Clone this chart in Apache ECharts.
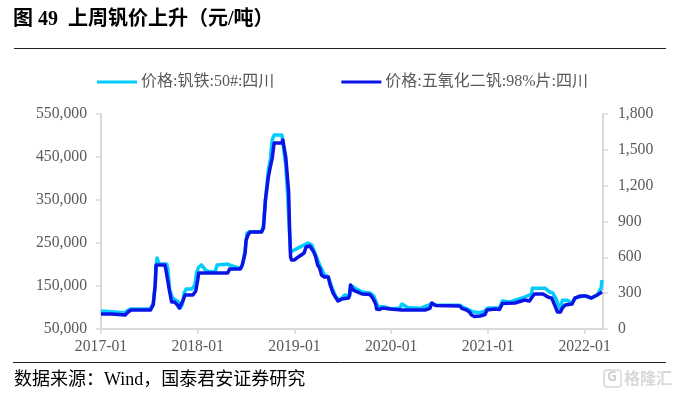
<!DOCTYPE html>
<html><head><meta charset="utf-8">
<style>html,body{margin:0;padding:0;background:#fff}#c{width:678px;height:395px}</style>
<script src="https://cdn.jsdelivr.net/npm/echarts@6/dist/echarts.min.js"></script>
</head><body><div id="c"></div>
<script>
const titleText = '图 49  上周钒价上升（元/吨）';
const sourceText = '数据来源：Wind，国泰君安证券研究';
const nameFe = '价格:钒铁:50#:四川';
const nameV2O5 = '价格:五氧化二钒:98%片:四川';
const xTickValues = [2017,2018,2019,2020,2021,2022];
const xTickLabels = ['2017-01','2018-01','2019-01','2020-01','2021-01','2022-01'];
const leftTicks = [50000,150000,250000,350000,450000,550000];
const rightTicks = [0,300,600,900,1200,1500,1800];

// time expressed in decimal years
const feTime = [2017.00,2017.11,2017.25,2017.28,2017.31,2017.51,2017.54,2017.56,2017.57,2017.58,2017.60,2017.68,2017.69,2017.71,2017.74,2017.80,2017.82,2017.84,2017.86,2017.88,2017.94,2017.97,2017.99,2018.01,2018.04,2018.08,2018.13,2018.18,2018.20,2018.31,2018.35,2018.42,2018.45,2018.47,2018.49,2018.51,2018.54,2018.66,2018.68,2018.70,2018.73,2018.75,2018.77,2018.79,2018.87,2018.89,2018.91,2018.93,2018.95,2018.96,2018.98,2019.06,2019.14,2019.18,2019.22,2019.26,2019.31,2019.35,2019.39,2019.43,2019.47,2019.52,2019.57,2019.58,2019.63,2019.70,2019.78,2019.82,2019.86,2019.93,2020.01,2020.09,2020.11,2020.17,2020.30,2020.38,2020.41,2020.43,2020.46,2020.71,2020.76,2020.81,2020.84,2020.92,2020.97,2021.00,2021.12,2021.15,2021.23,2021.28,2021.38,2021.45,2021.46,2021.59,2021.64,2021.67,2021.70,2021.73,2021.75,2021.77,2021.79,2021.82,2021.87,2021.90,2022.00,2022.07,2022.13,2022.15,2022.17,2022.18];
const feValues = [92000,90000,88000,94000,96500,96500,110000,152000,199000,215000,201000,201000,192000,141000,122000,113000,99000,106000,134000,143000,143000,152000,183000,194000,199000,187000,183000,183000,199000,201000,197000,192000,192000,206000,234000,273000,276000,276000,292000,350000,420000,443000,490000,501000,501000,497000,431000,362000,269000,229000,227000,241000,250000,245000,222000,199000,176000,171000,145000,124000,117000,129000,127000,152000,145000,136000,134000,127000,103000,101000,96500,99000,108000,100000,98000,105000,108000,110000,106000,105000,99000,94000,90000,88000,92000,99000,99000,115000,113000,117000,124000,131000,145000,145000,136000,134000,122000,106000,96500,117000,120000,117000,110000,122000,127000,122000,129000,129000,145000,164000];

const vTime = [2017.00,2017.11,2017.12,2017.25,2017.28,2017.31,2017.51,2017.54,2017.56,2017.57,2017.66,2017.67,2017.69,2017.71,2017.73,2017.76,2017.79,2017.81,2017.83,2017.85,2017.87,2017.95,2017.98,2018.00,2018.01,2018.31,2018.33,2018.44,2018.46,2018.47,2018.49,2018.50,2018.52,2018.54,2018.66,2018.68,2018.70,2018.73,2018.75,2018.77,2018.79,2018.87,2018.88,2018.90,2018.91,2018.93,2018.94,2018.95,2018.96,2018.97,2019.00,2019.04,2019.10,2019.12,2019.16,2019.20,2019.22,2019.24,2019.26,2019.28,2019.31,2019.35,2019.37,2019.40,2019.43,2019.45,2019.49,2019.56,2019.57,2019.58,2019.61,2019.65,2019.70,2019.78,2019.81,2019.84,2019.85,2019.88,2019.91,2019.99,2020.01,2020.11,2020.19,2020.35,2020.40,2020.42,2020.44,2020.46,2020.71,2020.73,2020.78,2020.81,2020.83,2020.86,2020.92,2020.97,2020.99,2021.07,2021.12,2021.15,2021.28,2021.38,2021.43,2021.45,2021.48,2021.57,2021.62,2021.66,2021.69,2021.72,2021.75,2021.77,2021.80,2021.87,2021.90,2021.95,2022.02,2022.07,2022.13,2022.15,2022.18];
const vValues = [125,125,117,117,142,159,159,201,368,536,536,502,502,310,226,226,201,176,176,243,285,285,318,410,469,469,502,502,536,552,636,745,787,812,812,845,1080,1272,1356,1431,1557,1557,1582,1582,1440,1440,1147,829,603,578,578,603,636,686,695,644,603,536,511,452,435,435,368,301,259,234,251,259,285,368,326,310,293,289,259,209,167,163,176,167,155,159,159,159,172,218,213,197,193,172,159,142,117,105,109,121,159,167,163,213,218,243,234,259,293,293,268,259,201,142,142,176,201,209,259,276,276,259,285,289,310];

const pair = (t, v) => t.map((x, i) => [x, v[i]]);
const FONT = '"Liberation Serif","Noto Sans CJK SC",serif';
const GRAY = '#595959', AXIS = '#d9d9d9';
const fmt = v => Number(v).toLocaleString('en-US');

const chart = echarts.init(document.getElementById('c'), null, {renderer:'canvas'});
chart.setOption({
  animation:false,
  backgroundColor:'#fff',
  title:{text:titleText,left:13,top:10,padding:0,textStyle:{fontFamily:FONT,fontSize:20,fontWeight:'bold',color:'#000'}},
  legend:{left:97,top:74,padding:0,itemWidth:40,itemHeight:3,itemGap:67,icon:'rect',
    data:[nameFe,nameV2O5],
    textStyle:{fontFamily:FONT,fontSize:16,color:GRAY,padding:[0,0,0,-1]}},
  grid:{left:101,right:75,top:114,bottom:66},
  xAxis:{type:'value',min:2017,max:2022.19,splitLine:{show:false},
    axisLine:{lineStyle:{color:AXIS,width:2}},
    axisTick:{show:true,length:5,customValues:xTickValues,lineStyle:{color:AXIS,width:1.5}},
    axisLabel:{customValues:xTickValues,margin:10,fontFamily:FONT,fontSize:15.7,color:GRAY,
      formatter:v=>xTickLabels[xTickValues.indexOf(Math.round(v))]}},
  yAxis:[
    {type:'value',min:50000,max:550000,splitLine:{show:false},
     axisLine:{show:true,onZero:false,lineStyle:{color:AXIS,width:2}},
     axisTick:{show:true,length:5,customValues:leftTicks,lineStyle:{color:AXIS,width:1.5}},
     axisLabel:{customValues:leftTicks,margin:14,fontFamily:FONT,fontSize:15.7,color:GRAY,formatter:fmt}},
    {type:'value',min:0,max:1800,interval:300,position:'right',splitLine:{show:false},
     axisLine:{show:true,onZero:false,lineStyle:{color:AXIS,width:2}},
     axisTick:{show:true,length:5,lineStyle:{color:AXIS,width:1.5}},
     axisLabel:{margin:15,fontFamily:FONT,fontSize:15.7,color:GRAY,formatter:fmt}}
  ],
  series:[
    {name:nameFe,type:'line',yAxisIndex:0,showSymbol:false,data:pair(feTime,feValues),
     lineStyle:{color:'#00ccff',width:3.5,join:'round'},itemStyle:{color:'#00ccff'},z:2},
    {name:nameV2O5,type:'line',yAxisIndex:1,showSymbol:false,data:pair(vTime,vValues),
     lineStyle:{color:'#0a14e6',width:3.5,join:'round'},itemStyle:{color:'#0a14e6'},z:3}
  ],
  graphic:[
    {type:'line',shape:{x1:14,y1:48.5,x2:666,y2:48.5},style:{stroke:'#222',lineWidth:1}},
    {type:'line',shape:{x1:13,y1:362.5,x2:666,y2:362.5},style:{stroke:'#222',lineWidth:1}},
    {type:'text',left:14,top:371,style:{text:sourceText,fontFamily:FONT,fontSize:18,fill:'#000'}},
    {type:'rect',shape:{x:604,y:370,width:17,height:17,r:3},style:{fill:'none',stroke:'#d8d8d8',lineWidth:1.5}},
    {type:'text',left:607,top:370,style:{text:'G',fontFamily:'"Noto Sans"',fontSize:14,fontWeight:'bold',fill:'#d0d0d0'}},
    {type:'text',left:624,top:370,style:{text:'格隆汇',fontFamily:'"Noto Sans CJK SC"',fontSize:16,fontWeight:'bold',fill:'#d8d8d8'}}
  ]
});
</script></body></html>
